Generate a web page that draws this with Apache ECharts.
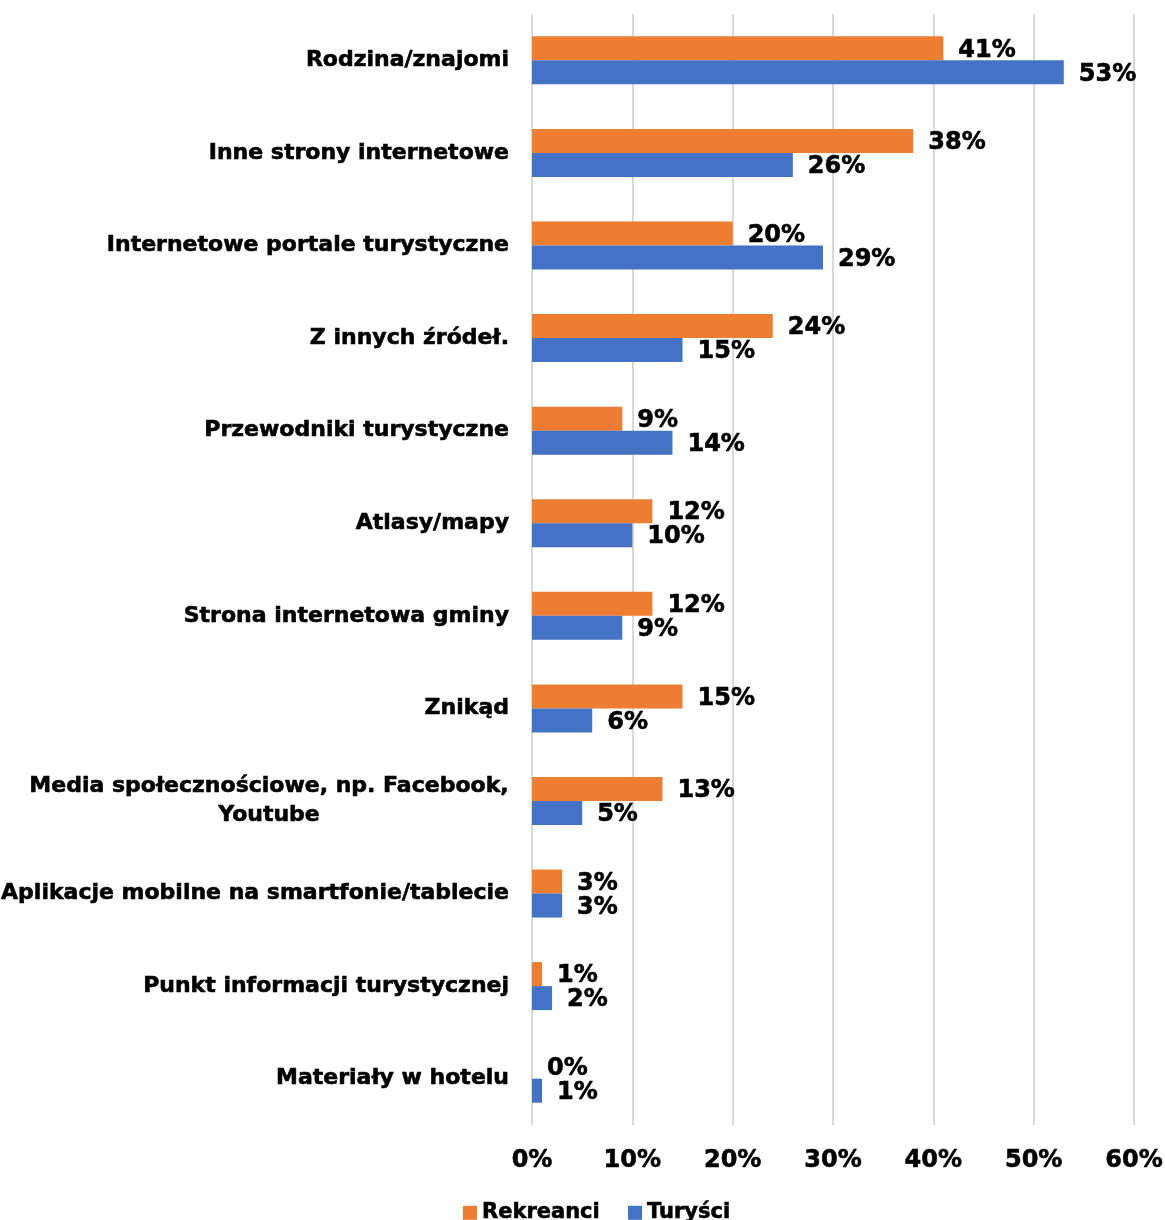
<!DOCTYPE html>
<html>
<head>
<meta charset="utf-8">
<script src="https://cdn.jsdelivr.net/npm/echarts@6/dist/echarts.min.js"></script>
<style>
  html, body { margin: 0; padding: 0; background: #ffffff; }
  #chart { width: 1165px; height: 1220px; }
</style>
</head>
<body>
<div id="chart"></div>
<script>
// Źródła informacji – odsetek wskazań (%)
const categories = [
  'Rodzina/znajomi',
  'Inne strony internetowe',
  'Internetowe portale turystyczne',
  'Z innych źródeł.',
  'Przewodniki turystyczne',
  'Atlasy/mapy',
  'Strona internetowa gminy',
  'Znikąd',
  'Media społecznościowe, np. Facebook,\nYoutube',
  'Aplikacje mobilne na smartfonie/tablecie',
  'Punkt informacji turystycznej',
  'Materiały w hotelu'
];
const seriesNames = ['Rekreanci', 'Turyści'];
const rekreanci = [41, 38, 20, 24, 9, 12, 12, 15, 13, 3, 1, 0];
const turysci   = [53, 26, 29, 15, 14, 10, 9, 6, 5, 3, 2, 1];
const xTicks = [0, 10, 20, 30, 40, 50, 60];

const FONT = '"DejaVu Sans", Verdana, sans-serif';
const CAT_SIZE = 22;
// a thin outline in the text colour gives the heavier bold look
const HEAVY = { textBorderColor: '#000', textBorderWidth: 0.6 };

// width of the longest line of a wrapped category label, so the lines can be centred
function textWidth(str, size) {
  const c = document.createElement('canvas').getContext('2d');
  c.font = 'bold ' + size + 'px ' + FONT;
  return Math.ceil(c.measureText(str).width);
}

const chart = echarts.init(document.getElementById('chart'), null, { renderer: 'canvas' });

const valueLabel = Object.assign({
  show: true,
  position: 'right',
  distance: 15,
  offset: [0, 2],
  color: '#000',
  fontFamily: FONT,
  fontWeight: 'bold',
  fontSize: 24,
  formatter: p => p.value + '%'
}, HEAVY);

chart.setOption({
  animation: false,
  backgroundColor: '#ffffff',
  color: ['#ED7D31', '#4472C4'],
  grid: { left: 532, right: 31, top: 14, bottom: 95, containLabel: false, outerBoundsMode: 'none' },
  legend: {
    data: seriesNames,
    top: 1197,
    left: 458,
    icon: 'rect',
    itemWidth: 14,
    itemHeight: 14,
    itemGap: 28,
    textStyle: Object.assign({ color: '#000', fontFamily: FONT, fontWeight: 'bold', fontSize: 21 }, HEAVY)
  },
  xAxis: {
    type: 'value',
    min: xTicks[0],
    max: xTicks[xTicks.length - 1],
    interval: 10,
    axisLine: { show: false },
    axisTick: { show: false },
    splitLine: { show: true, lineStyle: { color: '#D9D9D9', width: 2 } },
    axisLabel: Object.assign({
      margin: 24,
      color: '#000',
      fontFamily: FONT,
      fontWeight: 'bold',
      fontSize: 24,
      formatter: '{value}%'
    }, HEAVY)
  },
  yAxis: {
    type: 'category',
    inverse: true,
    data: categories,
    axisLine: { show: false },
    axisTick: { show: false },
    axisLabel: Object.assign({
      margin: 23,
      color: '#000',
      fontFamily: FONT,
      fontWeight: 'bold',
      fontSize: CAT_SIZE,
      formatter: v => {
        const lines = v.split('\n');
        if (lines.length === 1) return v;
        const w = Math.max.apply(null, lines.map(l => textWidth(l, CAT_SIZE)));
        return lines.map(l => '{c' + w + '|' + l + '}').join('\n');
      },
      rich: (() => {
        const r = {};
        categories.filter(c => c.includes('\n')).forEach(c => {
          const w = Math.max.apply(null, c.split('\n').map(l => textWidth(l, CAT_SIZE)));
          r['c' + w] = Object.assign({
            width: w, align: 'center', lineHeight: 29,
            color: '#000', fontFamily: FONT, fontWeight: 'bold', fontSize: CAT_SIZE
          }, HEAVY);
        });
        return r;
      })()
    }, HEAVY)
  },
  series: [
    {
      name: seriesNames[0],
      type: 'bar',
      data: rekreanci,
      barWidth: 24,
      barGap: '0%',
      label: valueLabel
    },
    {
      name: seriesNames[1],
      type: 'bar',
      data: turysci,
      barWidth: 24,
      barGap: '0%',
      label: valueLabel
    }
  ]
});
</script>
</body>
</html>
